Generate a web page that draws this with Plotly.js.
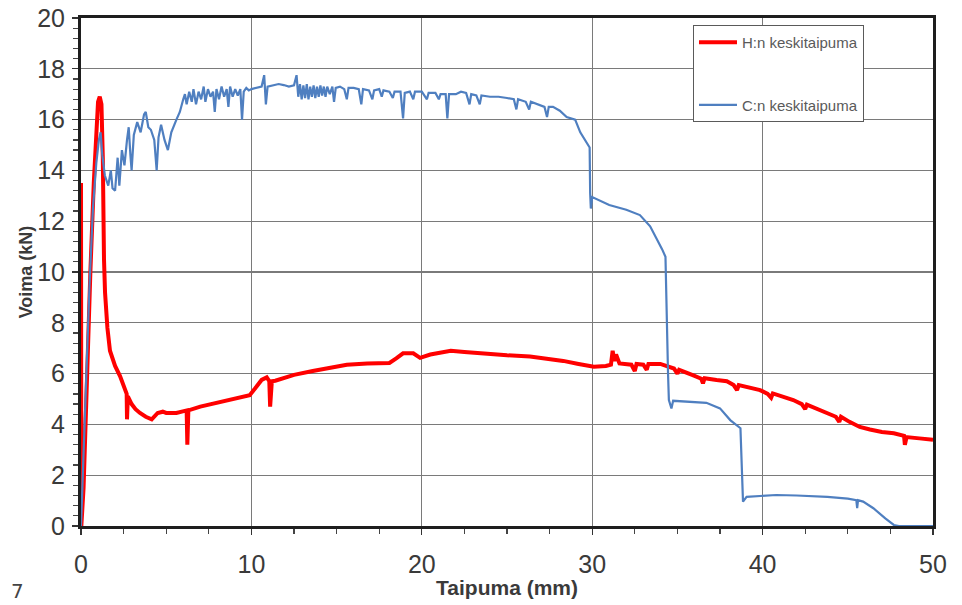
<!DOCTYPE html>
<html>
<head>
<meta charset="utf-8">
<script src="https://cdn.plot.ly/plotly-3.0.1.min.js"></script>
<style>
  html, body { margin: 0; padding: 0; background: #ffffff; }
  #chart { width: 962px; height: 605px; }
</style>
</head>
<body>
<div id="chart"></div>
<script>
// Keskitaipuma vs. voima, kaksi koekappaletta (H ja C)

const seriesNames = ["H:n keskitaipuma", "C:n keskitaipuma"];

// H:n keskitaipuma: taipuma (mm) ja voima (kN)
const hDeflection = [
  0, 0.02, 0.15, 0.35, 0.55, 0.75, 0.9, 1.0, 1.1, 1.2, 1.28, 1.31, 1.35, 1.41, 1.55, 1.7,
  2.0, 2.29, 2.5, 2.68, 2.7, 2.75, 2.97, 3.2, 3.46, 3.8, 4.15, 4.5, 4.8, 5.0, 5.6, 6.0,
  6.2, 6.24, 6.3, 7.0, 8.0, 9.0, 9.9, 10.2, 10.6, 10.9, 11.05, 11.1, 11.2, 11.4, 12.5,
  13.6, 14.5, 15.6, 16.8, 18.1, 18.5, 18.9, 19.5, 19.9, 20.5, 21.2, 21.7, 22.5, 23.3,
  24.0, 25.0, 26.35, 27.3, 28.3, 29.2, 30.1, 30.8, 31.1, 31.2, 31.3, 31.4, 31.6, 32.3,
  32.5, 32.6, 33.0, 33.2, 33.3, 34.0, 34.4, 34.8, 35.0, 35.1, 35.9, 36.4, 36.5, 36.6,
  37.3, 37.9, 38.3, 38.5, 38.6, 39.2, 39.85, 40.3, 40.5, 40.6, 41.2, 41.8, 42.3, 42.5,
  42.6, 43.2, 43.8, 44.3, 44.5, 44.6, 45.1, 45.7, 46.3, 47.0, 47.7, 48.3, 48.35, 48.45,
  49.2, 50
];
const hForce = [
  13.5, 0, 1.5, 6, 10, 13.5, 15.8, 16.7, 16.9, 16.6, 14.5, 12.0, 10.5, 9.2, 7.8, 6.9,
  6.3, 5.9, 5.5, 5.2, 4.2, 5.1, 4.8, 4.6, 4.45, 4.3, 4.2, 4.45, 4.5, 4.45, 4.45, 4.5,
  4.55, 3.2, 4.55, 4.7, 4.85, 5.0, 5.15, 5.4, 5.75, 5.85, 5.7, 4.7, 5.7, 5.72, 5.95,
  6.1, 6.22, 6.35, 6.4, 6.42, 6.6, 6.8, 6.8, 6.62, 6.75, 6.85, 6.9, 6.85, 6.8,
  6.77, 6.72, 6.67, 6.6, 6.5, 6.38, 6.27, 6.3, 6.35, 6.9, 6.5, 6.75, 6.4, 6.35,
  6.1, 6.38, 6.35, 6.15, 6.38, 6.38, 6.3, 6.2, 6.0, 6.15, 5.94, 5.8, 5.62, 5.82,
  5.75, 5.7, 5.55, 5.35, 5.55, 5.45, 5.35, 5.2, 5.05, 5.22, 5.1, 4.96, 4.8, 4.6,
  4.78, 4.6, 4.44, 4.3, 4.1, 4.3, 4.1, 3.9, 3.8, 3.7, 3.65, 3.55, 3.2, 3.5,
  3.45, 3.4
];

// C:n keskitaipuma: taipuma (mm) ja voima (kN)
const cDeflection = [
  0, 0.1, 0.3, 0.5, 0.7, 0.9, 1.05, 1.15, 1.25, 1.4, 1.6, 1.75, 1.85, 2.0, 2.15, 2.25,
  2.4, 2.55, 2.7, 2.8, 2.9, 2.97, 3.1, 3.3, 3.5, 3.7, 3.8, 3.95, 4.1, 4.3, 4.44, 4.55,
  4.7, 4.9, 5.1, 5.3, 5.6, 5.8, 6.0, 6.1, 6.2, 6.35, 6.5, 6.6, 6.75, 6.9, 7.05, 7.2,
  7.3, 7.45, 7.6, 7.75, 7.85, 7.95, 8.1, 8.25, 8.4, 8.55, 8.65, 8.75, 8.9, 9.05, 9.2,
  9.35, 9.45, 9.55, 9.7, 9.85, 10.0, 10.3, 10.6, 10.75, 10.85, 10.95, 11.3, 11.6, 11.9,
  12.2, 12.5, 12.65, 12.75, 12.85, 12.95, 13.05, 13.15, 13.25, 13.35, 13.45, 13.55,
  13.65, 13.75, 13.85, 13.95, 14.05, 14.15, 14.25, 14.35, 14.45, 14.6, 14.75, 14.85,
  14.95, 15.2, 15.45, 15.6, 15.7, 16.0, 16.3, 16.45, 16.55, 16.9, 17.1, 17.2, 17.5,
  17.65, 17.75, 18.1, 18.3, 18.4, 18.75, 18.9, 19.0, 19.3, 19.5, 19.6, 20.0, 20.3,
  20.4, 20.8, 21.0, 21.1, 21.4, 21.5, 21.6, 22.0, 22.3, 22.6, 22.8, 22.9, 23.2, 23.4,
  23.5, 24.0, 24.5, 25.0, 25.4, 25.55, 25.65, 26.1, 26.3, 26.4, 26.9, 27.2, 27.35,
  27.45, 27.7, 28.1, 28.5, 29.0, 29.3, 29.6, 29.85, 29.88, 29.92, 30.0, 30.5, 31.0,
  32.0, 32.8, 33.4, 33.8, 34.1, 34.3, 34.35, 34.4, 34.45, 34.5, 34.65, 34.75, 35.5,
  36.7, 37.5, 38.1, 38.7, 38.75, 38.85, 39.06, 40.0, 40.8, 42.0, 43.8, 45.0, 45.5,
  45.55, 45.6, 45.9, 46.5, 47.2, 47.7, 48.0, 50
];
const cForce = [
  0, 2, 6, 9.5, 12.5, 14.3, 15.2, 15.5, 14.6, 13.8, 13.4, 14.0, 13.3, 13.2, 14.5, 13.4,
  14.8, 14.2, 15.2, 15.7, 14.6, 14.0, 15.4, 15.9, 15.5, 16.2, 16.3, 15.7, 15.6, 15.2, 14.0, 15.3,
  15.8, 15.2, 14.8, 15.5, 16.0, 16.3, 16.8, 17.0, 16.6, 17.1, 16.7, 17.2, 16.6, 17.1, 16.8, 17.3,
  16.7, 17.2, 16.9, 17.1, 16.3, 17.2, 16.8, 17.3, 16.9, 17.2, 16.5, 17.3, 16.9, 17.2, 16.95,
  17.2, 16.0, 17.1, 17.25, 17.15, 17.2, 17.25, 17.3, 17.75, 16.6, 17.3, 17.35, 17.4, 17.36,
  17.3, 17.35, 17.75, 16.9, 17.4, 16.8, 17.35, 16.85, 17.4, 16.8, 17.3, 16.9,
  17.35, 16.85, 17.3, 16.9, 17.35, 16.95, 17.3, 16.9, 17.3, 17.0, 17.3, 16.7,
  17.25, 17.3, 17.2, 16.8, 17.25, 17.25, 17.2, 16.6, 17.2, 17.15, 16.8, 17.15, 17.2,
  16.9, 17.15, 17.1, 16.85, 17.1, 17.1, 16.05, 17.05, 17.1, 16.8, 17.1, 17.1, 16.8,
  17.05, 17.05, 16.8, 17.0, 17.0, 16.05, 17.0, 17.0, 17.1, 17.05, 16.6, 17.0, 16.95, 16.6,
  16.95, 16.9, 16.9, 16.85, 16.8, 16.4, 16.8, 16.7, 16.4, 16.7, 16.57, 16.5, 16.1,
  16.5, 16.5, 16.35, 16.1, 16.0, 15.5, 15.2, 14.9, 13.1, 12.5, 12.95, 12.8, 12.64,
  12.45, 12.24, 11.8, 11.3, 10.9, 10.6, 8.5, 7.1, 6.0, 4.96, 4.63, 4.93, 4.9,
  4.85, 4.63, 4.17, 3.85, 2.5, 0.96, 1.15, 1.2, 1.22, 1.2, 1.15, 1.08, 1.02,
  0.7, 1.02, 0.96, 0.7, 0.3, 0.04, 0, 0
];

const xTickVals = [0, 10, 20, 30, 40, 50];
const yTickVals = [0, 2, 4, 6, 8, 10, 12, 14, 16, 18, 20];

const axisFont = { family: "Liberation Sans, Arial, sans-serif", size: 25, color: "#3a3a3a" };

const traces = [
  {
    x: hDeflection, y: hForce, name: seriesNames[0], legendgroup: "h",
    type: "scatter", mode: "lines",
    line: { color: "#ff0000", width: 4 }
  },
  {
    x: cDeflection, y: cForce, name: seriesNames[1], legendgroup: "c",
    type: "scatter", mode: "lines",
    line: { color: "#4f7fc0", width: 2.2 }
  }
];

const layout = {
  width: 962, height: 605,
  margin: { l: 81, r: 29, t: 18, b: 79 },
  paper_bgcolor: "#ffffff", plot_bgcolor: "#ffffff",
  showlegend: true,
  legend: {
    x: 0.7183, y: 0.986, xanchor: "left", yanchor: "top",
    bgcolor: "#ffffff", bordercolor: "#5a5a5a", borderwidth: 1,
    font: { family: "Liberation Sans, Arial, sans-serif", size: 15, color: "#5a5a5a" },
    tracegroupgap: 40, traceorder: "grouped",
    itemwidth: 38, entrywidth: 180, entrywidthmode: "pixels"
  },
  xaxis: {
    range: [0, 50], tickvals: xTickVals, ticktext: xTickVals.map(String),
    showgrid: true, gridcolor: "#7a7a7a", gridwidth: 1.2,
    zeroline: false, layer: "below traces",
    showline: true, mirror: true, linecolor: "#1e1e1e", linewidth: 3,
    ticks: "outside", ticklen: 6, tickcolor: "#333333", tickwidth: 1.2,
    ticklabelstandoff: 8,
    minor: { dtick: 2.5, ticks: "outside", ticklen: 5, tickcolor: "#444444", showgrid: false },
    tickfont: axisFont,
    title: { text: "<b>Taipuma (mm)</b>", standoff: 4,
             font: { family: "Liberation Sans, Arial, sans-serif", size: 21, color: "#3a3a3a" } }
  },
  yaxis: {
    range: [0, 20], tickvals: yTickVals, ticktext: yTickVals.map(String),
    showgrid: true, gridcolor: "#7a7a7a", gridwidth: 1.2,
    zeroline: false, layer: "below traces",
    showline: true, mirror: true, linecolor: "#1e1e1e", linewidth: 3,
    ticks: "outside", ticklen: 6, tickcolor: "#333333", tickwidth: 1.2,
    ticklabelstandoff: 2,
    minor: { dtick: 0.4, ticks: "outside", ticklen: 5, tickcolor: "#444444", showgrid: false },
    tickfont: axisFont,
    title: { text: "<b>Voima (kN)</b>", standoff: 0,
             font: { family: "Liberation Sans, Arial, sans-serif", size: 18, color: "#3a3a3a" } }
  },
  annotations: [
    {
      text: "7", xref: "paper", yref: "paper", x: -0.075, y: -0.127,
      xanchor: "center", yanchor: "middle", showarrow: false,
      font: { family: "DejaVu Sans, sans-serif", size: 20, color: "#444444" }
    }
  ]
};

Plotly.newPlot("chart", traces, layout, { displayModeBar: false, staticPlot: true });
</script>
</body>
</html>
